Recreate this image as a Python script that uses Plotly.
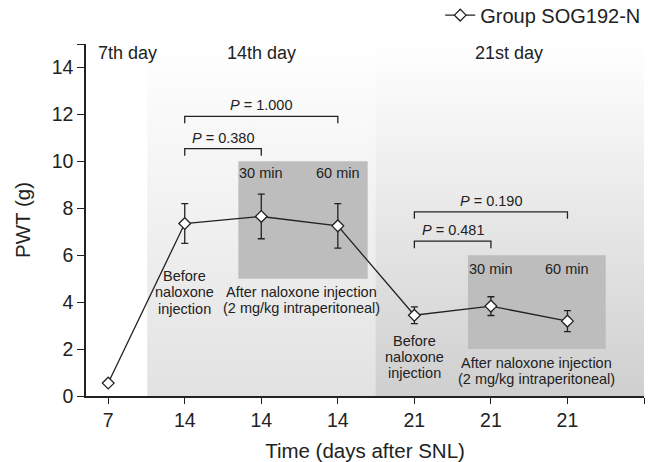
import plotly.graph_objects as go

# ---- data ----
x_pos = [0, 1, 2, 3, 4, 5, 6]
x_labels = ["7", "14", "14", "14", "21", "21", "21"]
pwt = [0.55, 7.35, 7.65, 7.25, 3.44, 3.83, 3.19]
pwt_err = [0.0, 0.85, 0.95, 0.95, 0.36, 0.40, 0.45]
series_name = "Group SOG192-N"

# comparison brackets: (x_start, x_end, y_level, label)
brackets = [
    (1, 3, 11.92, "<i>P</i> = 1.000"),
    (1, 2, 10.54, "<i>P</i> = 0.380"),
    (4, 6, 7.85, "<i>P</i> = 0.190"),
    (4, 5, 6.60, "<i>P</i> = 0.481"),
]

# period backgrounds: (x0, x1, y0, y1, bottom colour)
periods = [
    (0.51, 3.49, 0, 15, "#e2e2e2"),
    (3.49, 7.0, 0, 15, "#cfcfcf"),
]
# naloxone boxes: (x0, x1, y0, y1)
boxes = [
    (1.70, 3.39, 5, 10),
    (4.70, 6.50, 2, 6),
]

FONT = "Liberation Sans, Arial, Helvetica, sans-serif"

fig = go.Figure()

for x0, x1, y0, y1, col in periods:
    fig.add_trace(go.Scatter(
        x=[x0, x1, x1, x0, x0], y=[y0, y0, y1, y1, y0],
        mode="lines", line=dict(width=0), fill="toself",
        fillgradient=dict(type="vertical", colorscale=[[0, col], [1, "#ffffff"]]),
        showlegend=False, hoverinfo="skip"))

for x0, x1, y0, y1 in boxes:
    fig.add_trace(go.Scatter(
        x=[x0, x1, x1, x0, x0], y=[y0, y0, y1, y1, y0],
        mode="lines", line=dict(width=0), fill="toself", fillcolor="#bdbdbd",
        showlegend=False, hoverinfo="skip"))

# brackets
for xa, xb, yl, lab in brackets:
    fig.add_trace(go.Scatter(
        x=[xa, xa, xb, xb], y=[yl - 0.3, yl, yl, yl - 0.3],
        mode="lines", line=dict(color="#222222", width=1.3),
        showlegend=False, hoverinfo="skip"))
    fig.add_annotation(x=(xa + xb) / 2, y=yl, text=lab, showarrow=False,
                       yanchor="bottom", yshift=1,
                       font=dict(family=FONT, size=14.5, color="#222222"))

fig.add_trace(go.Scatter(
    x=x_pos, y=pwt, name=series_name, mode="lines+markers",
    line=dict(color="#222222", width=1.3),
    marker=dict(symbol="diamond", size=9, color="white",
                line=dict(color="#222222", width=1.3)),
    error_y=dict(type="data", array=pwt_err, visible=True,
                 color="#222222", thickness=1.3, width=3.5),
))

def add_text(x, y, lines, size=14.5, spacing=16.3):
    n = len(lines)
    for i, t in enumerate(lines):
        off = ((n - 1) / 2 - i) * spacing
        fig.add_annotation(x=x, y=y, text=t, showarrow=False, yshift=off,
                           font=dict(family=FONT, size=size, color="#222222"))

# period labels
fig.add_annotation(x=-0.16, y=14.6, text="7th day", showarrow=False, xanchor="left",
                   font=dict(family=FONT, size=18, color="#222222"))
add_text(2.0, 14.6, ["14th day"], size=18)
add_text(5.24, 14.6, ["21st day"], size=18)

add_text(2.0, 9.5, ["30 min"])
add_text(3.0, 9.5, ["60 min"])
add_text(5.0, 5.42, ["30 min"])
add_text(6.0, 5.42, ["60 min"])

add_text(1.0, 4.42, ["Before", "naloxone", "injection"])
add_text(2.53, 4.1, ["After naloxone injection", "(2 mg/kg intraperitoneal)"])
add_text(4.0, 1.66, ["Before", "naloxone", "injection"])
add_text(5.6, 1.07, ["After naloxone injection", "(2 mg/kg intraperitoneal)"])

fig.update_layout(
    width=648, height=462,
    margin=dict(l=86, r=4, t=44, b=66, autoexpand=False),
    paper_bgcolor="white", plot_bgcolor="white",
    font=dict(family=FONT, color="#222222"),
    showlegend=True,
    legend=dict(x=1.004, y=1.082, xanchor="right", yanchor="middle",
                bgcolor="rgba(0,0,0,0)", font=dict(size=20, family=FONT, color="#222222")),
    xaxis=dict(
        range=[-0.29, 7.0], tickmode="array", automargin=False,
        tickvals=x_pos + [7], ticktext=x_labels + [""],
        showgrid=False, zeroline=False, showline=True, linecolor="#222222", linewidth=1.5,
        ticks="outside", ticklen=6, tickwidth=1.3, tickcolor="#222222",
        tickfont=dict(size=19.5, family=FONT, color="#222222"),
        title=dict(text="Time (days after SNL)", font=dict(size=20.5, family=FONT, color="#222222")),
    ),
    yaxis=dict(
        range=[0, 15], tickmode="array", automargin=False,
        tickvals=[0, 2, 4, 6, 8, 10, 12, 14, 15],
        ticktext=["0", "2", "4", "6", "8", "10", "12", "14", ""],
        showgrid=False, zeroline=False, showline=True, linecolor="#222222", linewidth=1.5,
        ticks="outside", ticklen=7, tickwidth=1.3, tickcolor="#222222",
        tickfont=dict(size=19.5, family=FONT, color="#222222"),
        title=dict(text="PWT (g)", font=dict(size=20.5, family=FONT, color="#222222")),
    ),
)

fig.write_html("out.html", config={"displayModeBar": False},
               post_script="document.body.style.margin='0px';")
